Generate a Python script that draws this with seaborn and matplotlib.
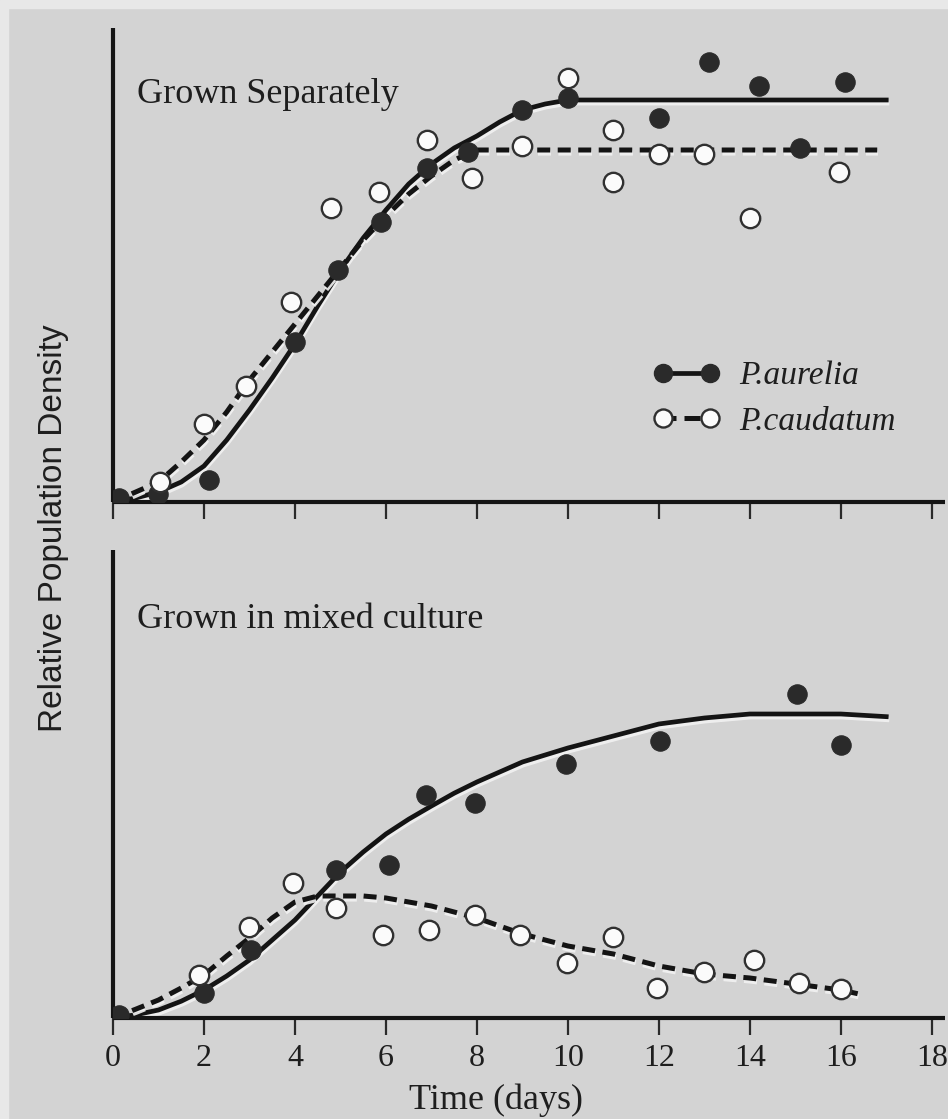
import matplotlib
matplotlib.use("Agg")
import matplotlib.pyplot as plt
import matplotlib.patheffects as pe
from matplotlib.lines import Line2D
from matplotlib.patches import Rectangle
import seaborn as sns
import numpy as np

# ---------------- data ----------------
# Top panel: grown separately
sep_aurelia_day = [0.13, 1.0, 2.1, 4.0, 4.95, 5.9, 6.9, 7.8, 9.0, 10.0, 12.0, 13.1, 14.2, 15.1, 16.1]
sep_aurelia_val = [1.0, 2.0, 5.5, 40.0, 58.0, 70.0, 83.5, 87.5, 98.0, 101.0, 96.0, 110.0, 104.0, 88.5, 105.0]

sep_caudatum_day = [1.03, 2.0, 2.93, 3.92, 4.8, 5.85, 6.9, 7.9, 9.0, 10.0, 11.0, 11.0, 12.0, 13.0, 14.0, 15.95]
sep_caudatum_val = [5.0, 19.5, 29.0, 50.0, 73.5, 77.5, 90.5, 81.0, 89.0, 106.0, 93.0, 80.0, 87.0, 87.0, 71.0, 82.5]

sep_aurelia_curve_day = [0, 0.5, 1, 1.5, 2, 2.5, 3, 3.5, 4, 4.5, 5, 5.5, 6, 6.5, 7, 7.5, 8, 8.5, 9, 9.5, 10, 17.05]
sep_aurelia_curve_val = [0, 1, 2.5, 5, 9, 15.5, 23, 31, 39.5, 49, 58, 66, 73, 79.5, 84.5, 88.5, 91.5, 95, 98, 99.5, 100.5, 100.5]

sep_caudatum_curve_day = [0, 0.5, 1, 1.5, 2, 2.5, 3, 3.5, 4, 4.5, 5, 5.5, 6, 6.5, 7, 7.5, 8, 16.8]
sep_caudatum_curve_val = [0, 2.5, 5, 10, 15.5, 22.5, 30.5, 37.5, 44.5, 51.5, 58.5, 65.5, 71.5, 77, 81.5, 85.5, 88, 88]

# Bottom panel: grown in mixed culture
mix_aurelia_day = [0.13, 2.0, 3.04, 4.9, 6.06, 6.87, 7.96, 9.96, 12.03, 15.03, 16.0]
mix_aurelia_val = [0.75, 6.25, 17.0, 37.0, 38.25, 55.75, 53.75, 63.5, 69.25, 81.0, 68.25]

mix_caudatum_day = [1.9, 2.98, 3.96, 4.9, 5.93, 6.94, 7.96, 8.95, 9.98, 11.0, 11.95, 13.0, 14.1, 15.08, 16.0]
mix_caudatum_val = [10.75, 22.75, 33.75, 27.5, 20.75, 22.0, 25.75, 20.75, 13.75, 20.25, 7.5, 11.5, 14.5, 8.75, 7.25]

mix_aurelia_curve_day = [0, 0.5, 1, 1.5, 2, 2.5, 3, 3.5, 4, 4.5, 5, 5.5, 6, 6.5, 7, 7.5, 8, 9, 10, 11, 12, 13, 14, 15, 16, 17.05]
mix_aurelia_curve_val = [0, 0.8, 2, 4.2, 7, 10.5, 14.5, 19.5, 24.5, 30.5, 36.5, 41.5, 46, 49.7, 53, 56.2, 59, 64, 67.5, 70.5, 73.5, 75, 76, 76, 76, 75.3]

mix_caudatum_curve_day = [0, 0.5, 1, 1.5, 2, 2.5, 3, 3.5, 4, 4.5, 5, 5.5, 6, 7, 8, 9, 10, 11, 12, 13, 14, 15, 16, 16.4]
mix_caudatum_curve_val = [0, 2.2, 4.5, 7.5, 10.75, 15.5, 20, 25, 29, 30.5, 30.5, 30.5, 30, 28, 25, 21, 18, 16, 13, 11, 10, 8.5, 7, 6]

x_ticks = [0, 2, 4, 6, 8, 10, 12, 14, 16, 18]
panel_titles = ["Grown Separately", "Grown in mixed culture"]
legend_labels = ["P.aurelia", "P.caudatum"]
x_label = "Time (days)"
y_label = "Relative Population Density"

# ---------------- style ----------------
sns.set_theme(style="white")
plt.rcParams["font.family"] = ["Liberation Serif", "DejaVu Serif"]

BG = "#d3d3d3"
INK = "#141414"
DOT = "#2a2a2a"
W, H = 948, 1119
DASH = (0, (2.6, 1.5))

fig = plt.figure(figsize=(W / 100, H / 100), dpi=100, facecolor=BG)
fig.patches.append(Rectangle((0, 1 - 8 / H), 1, 8 / H, transform=fig.transFigure,
                             color="#e8e8e8", zorder=0))
fig.patches.append(Rectangle((0, 0), 8 / W, 1, transform=fig.transFigure,
                             color="#e8e8e8", zorder=0))

ax1 = fig.add_axes([113 / W, 1 - 502 / H, 832 / W, 474 / H])
ax2 = fig.add_axes([113 / W, 1 - 1018 / H, 832 / W, 468 / H])

halo_line = [pe.SimpleLineShadow(offset=(0.5, -2.2), shadow_color="#f2f2f2", alpha=0.9, rho=1.0),
             pe.Normal()]

def draw_panel(ax, a_cd, a_cv, c_cd, c_cv, a_d, a_v, c_d, c_v, ymax):
    ax.set_facecolor(BG)
    sns.lineplot(x=a_cd, y=a_cv, ax=ax, color=INK, lw=3.4, sort=False,
                 estimator=None, zorder=2)
    ln_a = ax.lines[-1]
    ln_a.set_path_effects(halo_line)
    ln_a.set_solid_capstyle("butt")
    ln_a.set_solid_joinstyle("round")
    sns.lineplot(x=c_cd, y=c_cv, ax=ax, color=INK, lw=3.6, sort=False,
                 estimator=None, zorder=2)
    ln_c = ax.lines[-1]
    ln_c.set_linestyle(DASH)
    ln_c.set_dash_capstyle("butt")
    ln_c.set_path_effects(halo_line)
    sns.scatterplot(x=a_d, y=a_v, ax=ax, s=195, color=DOT, edgecolor=DOT,
                    linewidth=0.8, zorder=4)
    sns.scatterplot(x=c_d, y=c_v, ax=ax, s=195, color="#fbfbfb", edgecolor="#303030",
                    linewidth=1.7, zorder=5)
    ax.set_xlim(0, 18.29)
    ax.set_ylim(0, ymax)
    ax.set_xticks(x_ticks)
    ax.set_yticks([])
    for s in ("top", "right"):
        ax.spines[s].set_visible(False)
    for s in ("left", "bottom"):
        ax.spines[s].set_linewidth(3.0)
        ax.spines[s].set_color(INK)
        ax.spines[s].set_capstyle("butt")
    ax.tick_params(axis="x", direction="out", length=12, width=1.6, color="#2a2a2a",
                   bottom=True, labelsize=23, pad=7, labelcolor="#1e1e1e")
    ax.set_xlabel("")
    ax.set_ylabel("")

draw_panel(ax1, sep_aurelia_curve_day, sep_aurelia_curve_val,
           sep_caudatum_curve_day, sep_caudatum_curve_val,
           sep_aurelia_day, sep_aurelia_val, sep_caudatum_day, sep_caudatum_val, 118.5)
draw_panel(ax2, mix_aurelia_curve_day, mix_aurelia_curve_val,
           mix_caudatum_curve_day, mix_caudatum_curve_val,
           mix_aurelia_day, mix_aurelia_val, mix_caudatum_day, mix_caudatum_val, 117)

ax1.tick_params(axis="x", labelbottom=False)
ax2.set_xlabel(x_label, fontsize=26, color="#1e1e1e")
ax2.xaxis.set_label_coords((496 - 113) / 832, (1018 - 1100) / 468)
ax2.xaxis.label.set_verticalalignment("center")

ax1.text(0.53, 99.75, panel_titles[0], fontsize=26, color="#1e1e1e",
         ha="left", va="baseline")
ax2.text(0.53, 97.5, panel_titles[1], fontsize=26, color="#1e1e1e",
         ha="left", va="baseline")

fig.text(54 / W, 1 - 528 / H, y_label, rotation=90, ha="center", va="center",
         fontsize=24, color="#1e1e1e", family=["Liberation Sans", "DejaVu Sans"])

handles = [
    Line2D([], [], color=INK, lw=3.4, marker="o", markersize=13,
           markerfacecolor=DOT, markeredgecolor=DOT),
    Line2D([], [], color=INK, lw=3.6, linestyle=(0.6, (3.2, 1.6)), marker="o", markersize=13,
           markerfacecolor="#fbfbfb", markeredgecolor="#303030", markeredgewidth=1.7),
]
leg = ax1.legend(handles, legend_labels, loc="center left",
                 bbox_to_anchor=(653 / W, 1 - 399 / H), bbox_transform=fig.transFigure,
                 frameon=False, numpoints=2, handlelength=2.0, handletextpad=0.6,
                 labelspacing=0.45, borderpad=0, borderaxespad=0,
                 prop={"family": ["Liberation Serif"], "style": "italic", "size": 24})
for t in leg.get_texts():
    t.set_color("#1e1e1e")

fig.savefig("out.png", dpi=100, facecolor=BG)
